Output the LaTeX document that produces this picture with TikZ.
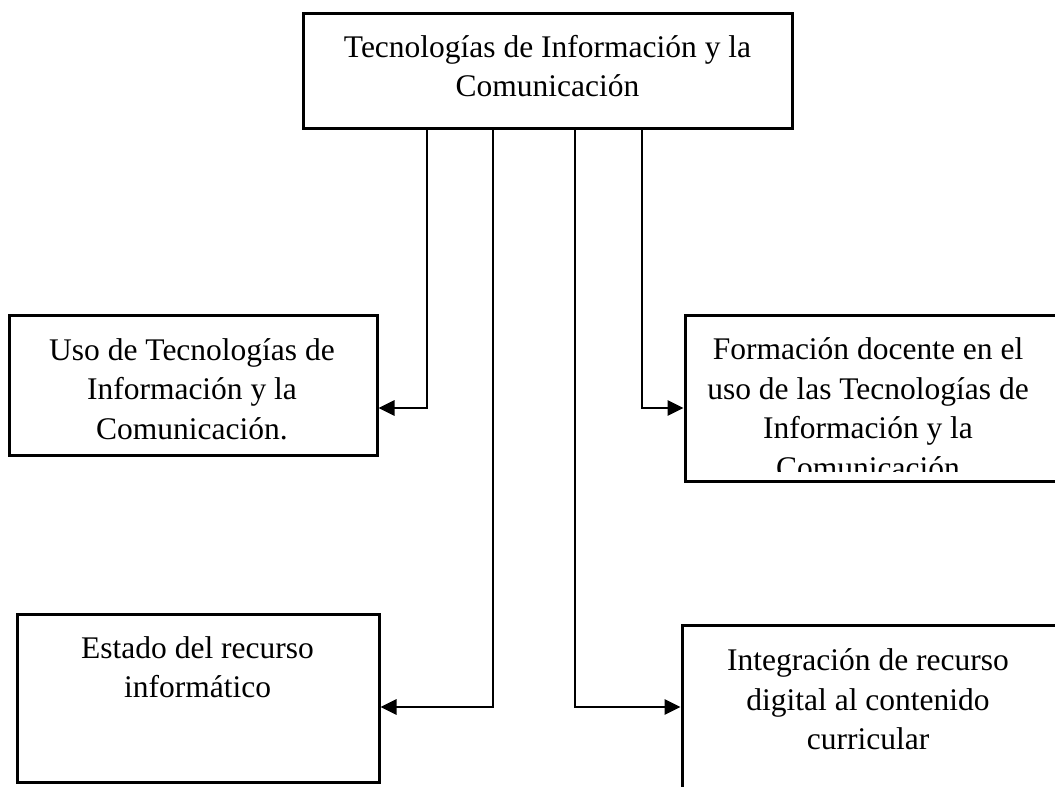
\documentclass[tikz,border=0pt]{standalone}
\usepackage{fontspec}
\setmainfont{Liberation Serif}
\usetikzlibrary{arrows.meta}
\begin{document}
\begin{tikzpicture}[x=1pt,y=-1pt,line width=3pt,
	box/.style={rectangle,draw,inner sep=0pt},
	txt/.style={align=center,inner sep=0pt,font=\fontsize{31.5}{39.5}\selectfont},
	link/.style={-{Triangle[length=16pt,width=15pt]},line width=2.8pt}]
	\useasboundingbox (0,0) rectangle (1055,787);
	\clip (0,0) rectangle (1055,787);
	\path (547.5,70.5) node(tic)[box,minimum width=489pt,minimum height=115pt]{}
	(193,385) node(uso)[box,minimum width=368pt,minimum height=140pt]{}
	(885,398) node(formacion)[box,minimum width=400pt,minimum height=166pt]{}
	(198,698) node(estado)[box,minimum width=362pt,minimum height=168pt]{}
	(882,725) node(integracion)[box,minimum width=400pt,minimum height=200pt]{};
	\path (547.5,66) node(tictxt)[txt]{Tecnologías de Información y la\\Comunicación}
	(192,389) node(usotxt)[txt]{Uso de Tecnologías de\\Información y la\\Comunicación.}
	(197.5,667) node(estadotxt)[txt]{Estado del recurso\\informático}
	(868,699.5) node(integraciontxt)[txt]{Integración de recurso\\digital al contenido\\curricular};
	\begin{scope}
		\clip (formacion.north west) rectangle ([yshift=11pt]formacion.south east);
		\path (868,408) node(formaciontxt)[txt]{Formación docente en el\\uso de las Tecnologías de\\Información y la\\Comunicación};
	\end{scope}
	\draw[link] ([xshift=-120.5pt]tic.south) |- ([yshift=-23pt]uso.east);
	\draw[link] ([xshift=-54.5pt]tic.south) |- ([yshift=-9pt]estado.east);
	\draw[link] ([xshift=27.5pt]tic.south) |- ([yshift=18pt]integracion.west);
	\draw[link] ([xshift=94.5pt]tic.south) |- ([yshift=-10pt]formacion.west);
\end{tikzpicture}
\end{document}
